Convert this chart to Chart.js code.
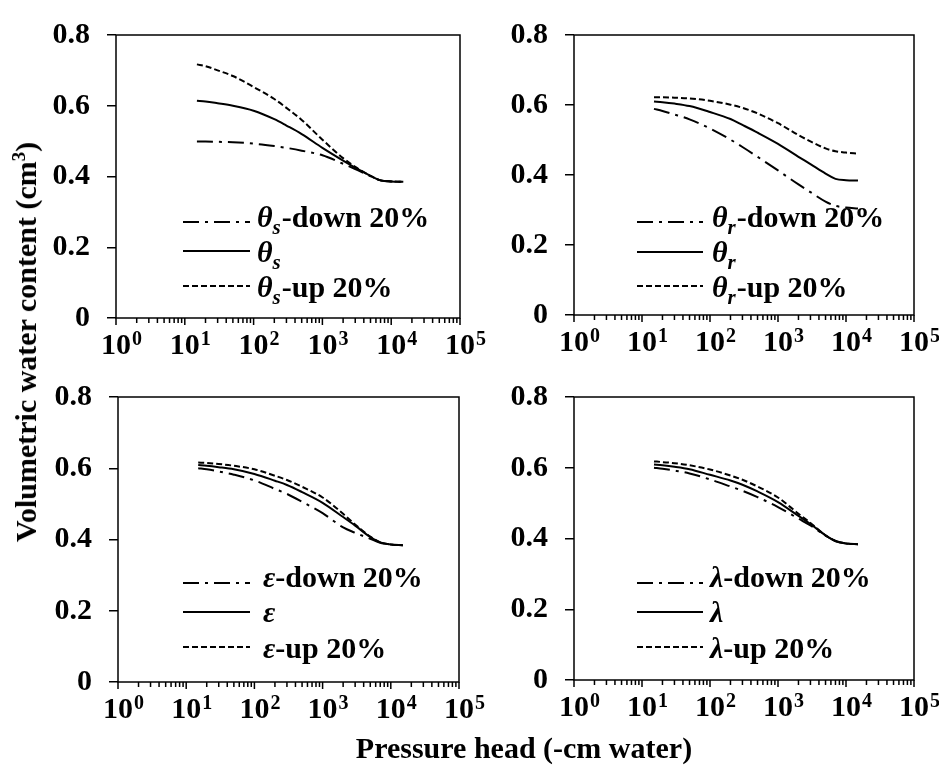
<!DOCTYPE html>
<html>
<head>
<meta charset="utf-8">
<script src="https://cdn.jsdelivr.net/npm/chart.js@4.4.1/dist/chart.umd.min.js"></script>
<style>
  body { margin: 0; background: #fff; width: 939px; height: 769px; position: relative; overflow: hidden;
         font-family: "Liberation Serif", "Times New Roman", serif; }
  canvas { position: absolute; }
  .title { position: absolute; font-weight: bold; font-size: 30px; line-height: 30px; white-space: nowrap; color: #000; }
  .title sup { font-size: 19px; line-height: 0; vertical-align: 11px; }
  #ytitle { left: 26px; top: 342px; transform: translate(-50%, -50%) rotate(-90deg); }
  #xtitle { left: 524px; top: 748px; transform: translate(-50%, -50%); }
</style>
</head>
<body>
<canvas id="c1"></canvas>
<canvas id="c2"></canvas>
<canvas id="c3"></canvas>
<canvas id="c4"></canvas>
<div id="ytitle" class="title">Volumetric water content (cm<sup>3</sup>)</div>
<div id="xtitle" class="title">Pressure head (-cm water)</div>
<script>
// pressure head (-cm water) at which the curves were read
const pressureHead = [15, 20, 30, 50, 100, 200, 300, 500, 1000, 2000, 3000, 5000, 7000, 10000, 15000];
const xTickExps = [0, 1, 2, 3, 4, 5];
const yMin = 0, yMax = 0.8, yStep = 0.2;

// theta_s
const thetaSDown = [0.499, 0.499, 0.498, 0.497, 0.493, 0.486, 0.481, 0.473, 0.460, 0.436, 0.421, 0.401, 0.389, 0.386, 0.385];
const thetaS     = [0.614, 0.612, 0.607, 0.600, 0.586, 0.562, 0.544, 0.520, 0.481, 0.445, 0.425, 0.402, 0.389, 0.386, 0.385];
const thetaSUp   = [0.717, 0.712, 0.700, 0.684, 0.653, 0.619, 0.594, 0.560, 0.504, 0.452, 0.427, 0.402, 0.389, 0.386, 0.385];
// theta_r
const thetaRDown = [0.589, 0.583, 0.573, 0.559, 0.533, 0.501, 0.480, 0.452, 0.413, 0.373, 0.351, 0.324, 0.312, 0.307, 0.304];
const thetaR     = [0.610, 0.608, 0.604, 0.597, 0.580, 0.560, 0.543, 0.521, 0.489, 0.452, 0.431, 0.404, 0.389, 0.385, 0.384];
const thetaRUp   = [0.622, 0.622, 0.621, 0.619, 0.612, 0.601, 0.592, 0.576, 0.548, 0.514, 0.496, 0.476, 0.468, 0.464, 0.461];
// epsilon
const epsDown = [0.600, 0.597, 0.591, 0.582, 0.566, 0.542, 0.528, 0.506, 0.474, 0.434, 0.419, 0.402, 0.391, 0.386, 0.384];
const eps     = [0.609, 0.607, 0.603, 0.597, 0.584, 0.565, 0.553, 0.533, 0.503, 0.463, 0.439, 0.407, 0.392, 0.386, 0.384];
const epsUp   = [0.616, 0.615, 0.612, 0.607, 0.597, 0.579, 0.567, 0.548, 0.518, 0.472, 0.442, 0.408, 0.392, 0.386, 0.384];
// lambda
const lamDown = [0.600, 0.597, 0.592, 0.584, 0.567, 0.547, 0.535, 0.517, 0.489, 0.456, 0.437, 0.408, 0.393, 0.386, 0.384];
const lam     = [0.609, 0.607, 0.603, 0.596, 0.580, 0.564, 0.552, 0.533, 0.503, 0.464, 0.441, 0.409, 0.393, 0.386, 0.384];
const lamUp   = [0.618, 0.616, 0.613, 0.607, 0.595, 0.578, 0.566, 0.547, 0.516, 0.470, 0.444, 0.409, 0.393, 0.386, 0.384];

const rowSuffix = ["-down 20%", "", "-up 20%"];
const dashStyles = [[16, 6, 3, 6], [], [6, 3]];

const FONT = "'Liberation Serif', 'Times New Roman', serif";

const panels = [
  { id: "c1", canvas: [0, 0, 495, 372], area: [116, 21, 460, 318], sym: "θ", sub: "s",
    data: [thetaSDown, thetaS, thetaSUp],
    legend: { x0: 67, len: 67, tx: 141, base: [-91, -56, -21], line: [-96, -67, -32] } },
  { id: "c2", canvas: [495, 0, 444, 372], area: [574, 17, 914, 315], sym: "θ", sub: "r",
    data: [thetaRDown, thetaR, thetaRUp],
    legend: { x0: 63, len: 66, tx: 138, base: [-88, -53, -18], line: [-93, -63, -29] } },
  { id: "c3", canvas: [0, 362, 495, 375], area: [118, 380, 459, 682], sym: "ε", sub: "",
    data: [epsDown, eps, epsUp],
    legend: { x0: 65, len: 67, tx: 145, base: [-95, -60, -24], line: [-99, -70, -35] } },
  { id: "c4", canvas: [495, 362, 444, 375], area: [574, 380, 914, 680], sym: "λ", sub: "",
    data: [lamDown, lam, lamUp],
    legend: { x0: 63, len: 66, tx: 136, base: [-93, -58, -22], line: [-97, -68, -33] } },
];

function series(vals) {
  return vals.map((v, i) => ({ x: pressureHead[i], y: v }));
}

const panelPlugin = {
  id: "panelPlugin",
  afterDraw(chart) {
    const p = chart.options.plugins.panelPlugin;
    const ctx = chart.ctx;
    const a = chart.chartArea;
    const xs = chart.scales.x;
    ctx.save();
    ctx.strokeStyle = "#000";
    ctx.lineWidth = 1.5;
    ctx.strokeRect(a.left, a.top, a.right - a.left, a.bottom - a.top);

    // log ticks on the x axis
    ctx.beginPath();
    xTickExps.forEach(e => {
      const px = xs.getPixelForValue(Math.pow(10, e));
      ctx.moveTo(px, a.bottom);
      ctx.lineTo(px, a.bottom + 7);
      if (e < xTickExps[xTickExps.length - 1]) {
        for (let m = 2; m <= 9; m++) {
          const q = xs.getPixelForValue(m * Math.pow(10, e));
          ctx.moveTo(q, a.bottom);
          ctx.lineTo(q, a.bottom + 5);
        }
      }
    });
    ctx.stroke();

    ctx.fillStyle = "#000";
    ctx.textBaseline = "alphabetic";
    xTickExps.forEach(e => {
      const px = xs.getPixelForValue(Math.pow(10, e));
      ctx.font = "bold 30px " + FONT;
      ctx.textAlign = "center";
      ctx.fillText("10", px, a.bottom + 36);
      const w = ctx.measureText("10").width;
      ctx.font = "bold 20px " + FONT;
      ctx.textAlign = "left";
      ctx.fillText(String(e), px + w / 2 + 1, a.bottom + 27);
    });

    // legend
    const lg = p.legend;
    for (let i = 0; i < 3; i++) {
      const ly = a.bottom + lg.line[i];
      ctx.setLineDash(dashStyles[i]);
      ctx.lineWidth = 2;
      ctx.beginPath();
      ctx.moveTo(a.left + lg.x0, ly);
      ctx.lineTo(a.left + lg.x0 + lg.len, ly);
      ctx.stroke();
      ctx.setLineDash([]);

      let x = a.left + lg.tx;
      const y = a.bottom + lg.base[i];
      ctx.textAlign = "left";
      ctx.font = "italic bold 30px " + FONT;
      ctx.fillText(p.sym, x, y);
      x += ctx.measureText(p.sym).width;
      if (p.sub) {
        ctx.font = "italic bold 21px " + FONT;
        ctx.fillText(p.sub, x, y + 7);
        x += ctx.measureText(p.sub).width + 1;
      }
      ctx.font = "bold 30px " + FONT;
      ctx.fillText(rowSuffix[i], x, y);
    }
    ctx.restore();
  }
};

function makeChart(p) {
  const cv = document.getElementById(p.id);
  const [cx, cy, cw, ch] = p.canvas;
  const [l, t, r, b] = p.area;
  cv.style.left = cx + "px";
  cv.style.top = cy + "px";
  cv.width = cw;
  cv.height = ch;
  cv.style.width = cw + "px";
  cv.style.height = ch + "px";

  const datasets = p.data.map((vals, i) => ({
    data: series(vals),
    borderColor: "#000",
    borderWidth: 2,
    borderDash: dashStyles[i],
    pointRadius: 0,
    fill: false,
    cubicInterpolationMode: "monotone",
  }));

  return new Chart(cv, {
    type: "line",
    data: { datasets: datasets },
    options: {
      responsive: false,
      animation: false,
      devicePixelRatio: 1,
      layout: { padding: { left: 0, top: t - cy, right: cx + cw - r, bottom: 0 } },
      plugins: {
        legend: { display: false },
        tooltip: { enabled: false },
        panelPlugin: p,
      },
      scales: {
        x: {
          type: "logarithmic",
          min: 1,
          max: 100000,
          grid: { display: false },
          ticks: { display: false },
          border: { display: false },
          afterFit: s => { s.height = cy + ch - b; },
        },
        y: {
          min: yMin,
          max: yMax,
          ticks: { stepSize: yStep, color: "#000", padding: 17, font: { family: FONT, size: 30, weight: "bold" } },
          grid: { drawOnChartArea: false, tickLength: 9, color: "#000", lineWidth: 1.5 },
          border: { display: false },
          afterFit: s => { s.width = l - cx; },
        },
      },
    },
    plugins: [panelPlugin],
  });
}

panels.forEach(makeChart);
</script>
</body>
</html>
